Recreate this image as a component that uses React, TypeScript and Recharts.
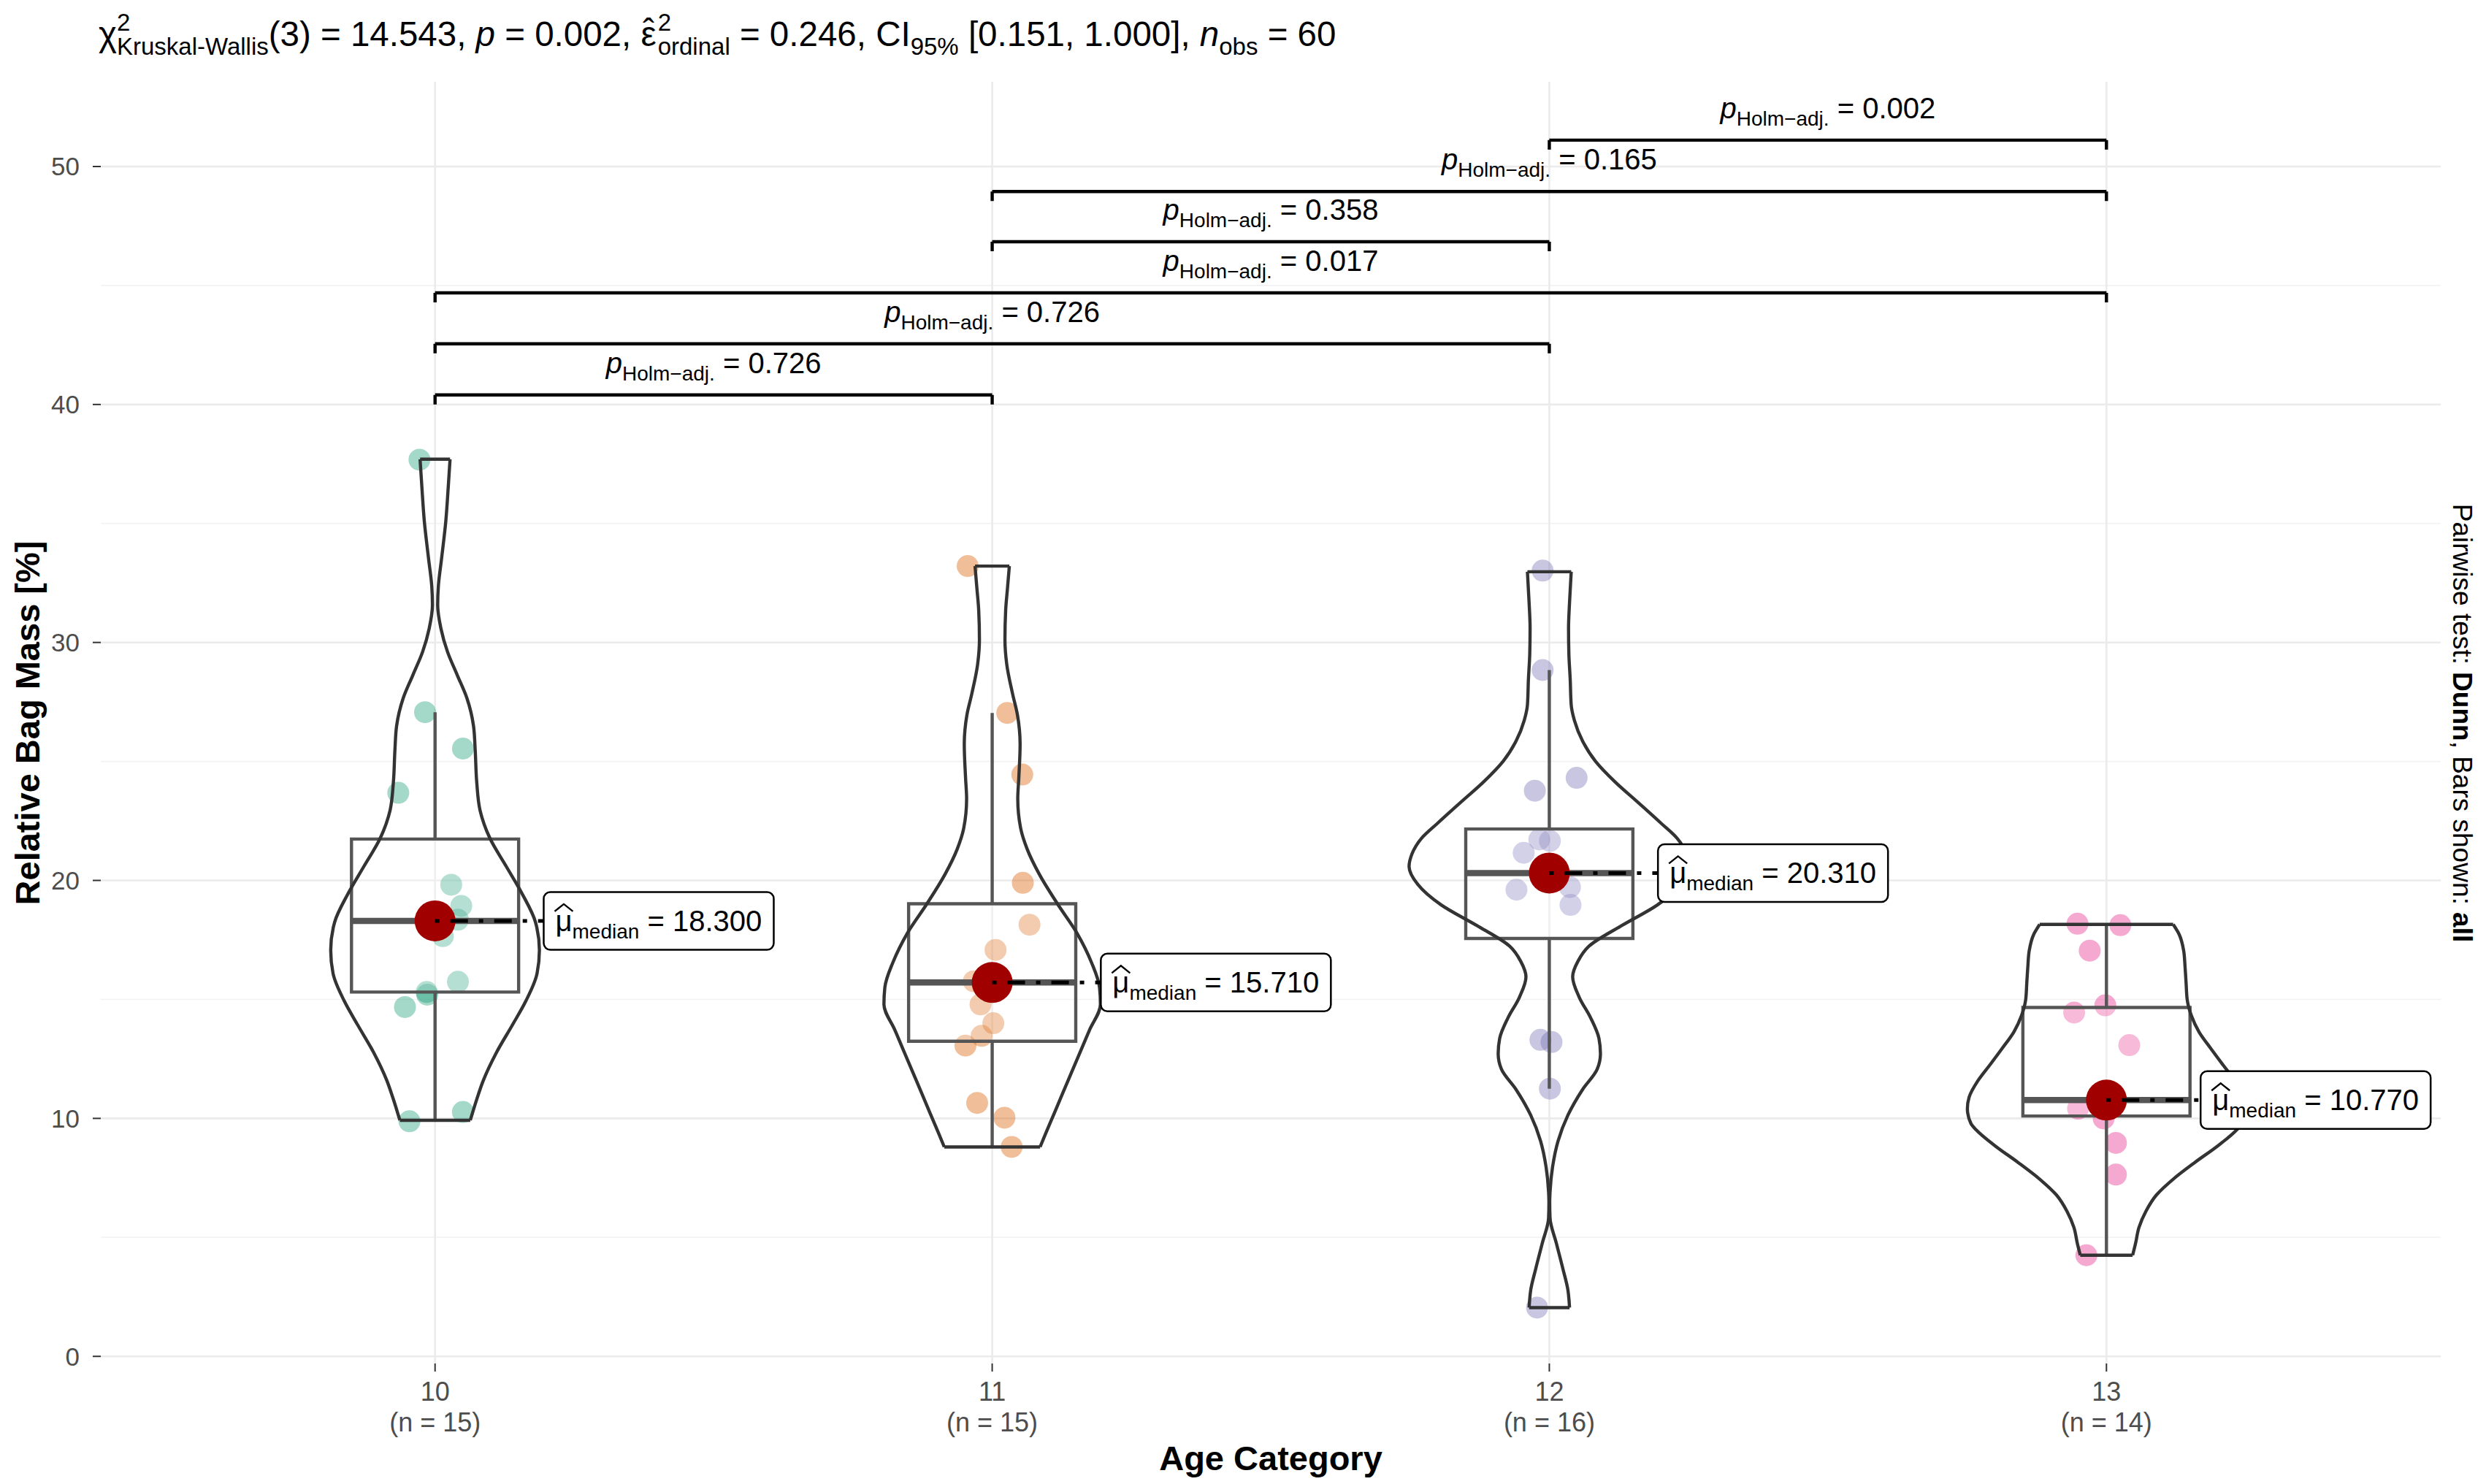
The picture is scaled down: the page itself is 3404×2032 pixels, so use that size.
import React from 'react';
import {
  ComposedChart, XAxis, YAxis, Line, Scatter,
  ReferenceLine, ReferenceArea, ReferenceDot,
} from 'recharts';

// ---------------- data ----------------
const categories = ['10', '11', '12', '13'];
const categoryIndex = [0, 1, 2, 3];
const groupCounts = [15, 15, 16, 14];
const groupColors = ['#1B9E77', '#D95F02', '#7570B3', '#E7298A'];
const yTicks = [0, 10, 20, 30, 40, 50];
const yMinorTicks = [5, 15, 25, 35, 45];

// observations (value) and horizontal jitter (category units)
const obs10 = [37.68, 27.07, 25.54, 23.68, 19.82, 18.93, 18.35, 18.0, 17.66, 15.74, 15.31, 15.2, 14.68, 10.27, 9.88];
const jit10 = [-0.028, -0.018, 0.05, -0.066, 0.029, 0.047, 0.041, 0.0, 0.014, 0.041, -0.015, -0.014, -0.054, 0.05, -0.046];
const obs11 = [33.21, 27.04, 24.45, 19.9, 18.14, 17.08, 15.76, 15.71, 14.79, 14.0, 13.47, 13.06, 10.65, 10.03, 8.8];
const jit11 = [-0.044, 0.027, 0.054, 0.055, 0.067, 0.006, -0.033, 0.0, -0.021, 0.002, -0.019, -0.048, -0.027, 0.022, 0.035];
const obs12 = [33.02, 28.84, 24.31, 23.77, 21.72, 21.66, 21.16, 20.52, 20.1, 19.72, 19.61, 18.97, 13.3, 13.21, 11.25, 2.05];
const jit12 = [-0.012, -0.012, 0.049, -0.026, -0.018, 0.001, -0.046, 0.01, -0.01, 0.037, -0.059, 0.038, -0.016, 0.004, 0.001, -0.022];
const obs13 = [18.18, 18.12, 17.05, 14.75, 14.45, 13.08, 10.9, 10.64, 10.6, 10.41, 10.0, 8.97, 7.64, 4.25];
const jit13 = [-0.052, 0.025, -0.03, -0.002, -0.058, 0.041, 0.005, -0.004, 0.01, -0.051, -0.005, 0.017, 0.017, -0.036];

// box plot statistics
const medians = [18.3, 15.71, 20.31, 10.77];
const medianLabels = ['18.300', '15.710', '20.310', '10.770'];
const q1 = [15.31, 13.24, 17.56, 10.1];
const q3 = [21.74, 19.02, 22.16, 14.66];
const whiskerLow = [9.88, 8.8, 11.25, 4.25];
const whiskerHigh = [27.07, 27.04, 28.84, 18.15];

// violin outlines: value and half-width (category units), top to bottom
const vY10 = [37.7, 36.47, 35.1, 33.53, 32.36, 31.57, 30.59, 29.61, 28.63, 27.65, 26.48, 25.5, 24.13, 22.95, 21.78, 20.6, 19.42, 18.25, 17.07, 16.09, 14.92, 13.94, 12.76, 11.59, 10.8, 9.92];
const vW10 = [0.0269, 0.0235, 0.0193, 0.0117, 0.0059, 0.0047, 0.0105, 0.0223, 0.0398, 0.0573, 0.0691, 0.072, 0.0748, 0.0807, 0.0983, 0.1275, 0.1568, 0.1802, 0.1873, 0.1831, 0.1627, 0.1392, 0.11, 0.0865, 0.0748, 0.0632];
const vY11 = [33.21, 32.24, 31.36, 30.12, 29.07, 27.83, 26.95, 25.72, 24.31, 23.43, 22.19, 21.31, 20.25, 19.02, 17.79, 16.55, 15.5, 14.79, 13.73, 12.85, 11.97, 11.09, 10.21, 9.33, 8.8];
const vW11 = [0.0308, 0.0273, 0.0242, 0.0229, 0.0262, 0.0367, 0.0454, 0.0501, 0.0478, 0.0459, 0.0511, 0.0629, 0.0848, 0.1171, 0.1521, 0.1783, 0.1927, 0.1943, 0.175, 0.159, 0.1431, 0.1271, 0.1113, 0.0954, 0.086];
const vY12 = [32.97, 31.68, 30.6, 29.53, 28.45, 27.37, 26.72, 25.86, 25.0, 24.14, 23.28, 22.41, 21.77, 21.12, 20.58, 19.83, 18.97, 18.1, 17.24, 16.59, 15.95, 15.09, 14.22, 13.36, 12.72, 12.07, 11.21, 10.13, 9.05, 7.97, 6.9, 6.47, 5.82, 4.74, 3.66, 2.8, 2.05];
const vW12 = [0.0393, 0.0363, 0.0345, 0.0351, 0.0375, 0.0393, 0.0451, 0.0596, 0.0831, 0.118, 0.1591, 0.2002, 0.2294, 0.2464, 0.2517, 0.2359, 0.194, 0.1298, 0.0714, 0.0511, 0.0419, 0.0537, 0.0743, 0.0891, 0.0918, 0.086, 0.0596, 0.0333, 0.0157, 0.0059, 0.0013, 0.0007, 0.0013, 0.0128, 0.0246, 0.0333, 0.0363];
const vY13 = [18.15, 17.74, 17.05, 16.37, 15.68, 15.0, 14.32, 13.63, 12.95, 12.26, 11.58, 10.89, 10.41, 9.79, 9.52, 8.84, 8.15, 7.47, 6.78, 6.1, 5.41, 4.73, 4.25];
const vW13 = [0.1198, 0.1304, 0.1386, 0.1411, 0.143, 0.1449, 0.1524, 0.1662, 0.1869, 0.2088, 0.2308, 0.2465, 0.2496, 0.2433, 0.2339, 0.1995, 0.1587, 0.121, 0.0897, 0.0709, 0.0583, 0.0521, 0.047];

// pairwise comparisons
const pairFrom = [0, 0, 0, 1, 1, 2];
const pairTo = [1, 2, 3, 2, 3, 3];
const pairP = ['0.726', '0.726', '0.017', '0.358', '0.165', '0.002'];
const bracketY = [40.4, 42.55, 44.69, 46.84, 48.95, 51.11];

// ---------------- layout / style ----------------
const W = 3404;
const H = 2032;
const FONT = '"Liberation Sans", Arial, Helvetica, sans-serif';
const xDomain = [-0.6, 3.6];
const yDomain = [-0.3, 53.56];
const BOX_HALF = 0.15;
const TIP = 0.4;
const labelNudge = [0.195, 0.195, 0.195, 0.169];

const observations = [obs10, obs11, obs12, obs13];
const jitters = [jit10, jit11, jit12, jit13];
const violinYs = [vY10, vY11, vY12, vY13];
const violinWs = [vW10, vW11, vW12, vW13];

const XTick = (props: any) => {
  const { x, y, payload } = props;
  const i = Math.round(payload.value);
  return (
    <g>
      <text x={x} y={y + 40} textAnchor="middle" fontSize={36} fill="#4D4D4D" fontFamily={FONT}>
        {categories[i]}
      </text>
      <text x={x} y={y + 82} textAnchor="middle" fontSize={36} fill="#4D4D4D" fontFamily={FONT}>
        {`(n = ${groupCounts[i]})`}
      </text>
    </g>
  );
};

const makeMedianLabel = (value: string) => (props: any) => {
  const { cx, cy } = props;
  const tx = cx + 16;
  const by = cy + 14;
  return (
    <g>
      <rect x={cx} y={cy - 39.5} width={315} height={79} rx={9} ry={9} fill="#fff" stroke="#000" strokeWidth={2.5} />
      <path d={`M ${tx - 1} ${by - 27} L ${tx + 11.5} ${by - 37} L ${tx + 24} ${by - 27}`}
        fill="none" stroke="#000" strokeWidth={2.4} />
      <text x={tx} y={by} fontSize={40} fontFamily={FONT} fill="#000" style={{ whiteSpace: 'pre' }}>
        <tspan>{'\u03BC'}</tspan>
        <tspan fontSize={28} dy={10}>median</tspan>
        <tspan dy={-10}>{` = ${value}`}</tspan>
      </text>
    </g>
  );
};

const makePLabel = (value: string) => (props: any) => {
  const { cx, cy } = props;
  return (
    <text x={cx} y={cy - 30} textAnchor="middle" fontSize={40} fontFamily={FONT} fill="#000" style={{ whiteSpace: 'pre' }}>
      <tspan fontStyle="italic">p</tspan>
      <tspan fontSize={28} dy={10}>{'Holm\u2212adj.'}</tspan>
      <tspan dy={-10}>{` = ${value}`}</tspan>
    </text>
  );
};

const pointShape = (r: number, color: string, opacity: number) => (props: any) => (
  <circle cx={props.cx} cy={props.cy} r={r} fill={color} fillOpacity={opacity} stroke="none" />
);

export default function App() {
  const pointSeries = observations.map((obs, g) =>
    obs.map((y, i) => ({ x: g + jitters[g][i], y }))
  );
  const medianPoints = medians.map((m, g) => ({ x: g, y: m }));
  const TF = 47.5;
  const SF = 33;

  return (
    <div style={{ position: 'absolute', left: 0, top: 0, width: W, height: H, background: '#fff' }}>
      <ComposedChart width={W} height={H} margin={{ top: 112, right: 62, bottom: 0, left: 0 }}>
        <XAxis
          type="number" dataKey="x" domain={xDomain} ticks={categoryIndex} interval={0}
          height={165} tickSize={11} tickMargin={0} axisLine={false}
          tickLine={{ stroke: '#333', strokeWidth: 2 }} tick={<XTick />} allowDataOverflow
        />
        <YAxis
          type="number" dataKey="y" domain={yDomain} ticks={yTicks} interval={0}
          width={138} tickSize={11} tickMargin={18} axisLine={false}
          tickLine={{ stroke: '#333', strokeWidth: 2 }}
          tick={{ fontSize: 35, fill: '#4D4D4D', fontFamily: FONT }} allowDataOverflow
        />

        {yMinorTicks.map((v) => (
          <ReferenceLine key={`gm${v}`} y={v} stroke="#F2F2F2" strokeWidth={1.6} zIndex={-90} />
        ))}
        {yTicks.map((v) => (
          <ReferenceLine key={`gy${v}`} y={v} stroke="#EBEBEB" strokeWidth={2.6} zIndex={-80} />
        ))}
        {categoryIndex.map((v) => (
          <ReferenceLine key={`gx${v}`} x={v} stroke="#EBEBEB" strokeWidth={2.6} zIndex={-80} />
        ))}

        {pointSeries.map((data, g) => (
          <Scatter key={`pts${g}`} data={data} isAnimationActive={false} zIndex={100}
            shape={pointShape(15, groupColors[g], 0.4)} />
        ))}

        {medians.map((m, g) => (
          <ReferenceArea key={`box${g}`} x1={g - BOX_HALF} x2={g + BOX_HALF} y1={q1[g]} y2={q3[g]}
            stroke="#555" strokeWidth={4.4} fill="#fff" fillOpacity={0.2} zIndex={200} />
        ))}
        {medians.map((m, g) => (
          <ReferenceLine key={`wh${g}`} segment={[{ x: g, y: q3[g] }, { x: g, y: whiskerHigh[g] }]}
            stroke="#555" strokeWidth={4.4} zIndex={210} />
        ))}
        {medians.map((m, g) => (
          <ReferenceLine key={`wl${g}`} segment={[{ x: g, y: q1[g] }, { x: g, y: whiskerLow[g] }]}
            stroke="#555" strokeWidth={4.4} zIndex={210} />
        ))}
        {medians.map((m, g) => (
          <ReferenceLine key={`md${g}`} segment={[{ x: g - BOX_HALF, y: m }, { x: g + BOX_HALF, y: m }]}
            stroke="#555" strokeWidth={8.5} zIndex={220} />
        ))}

        {violinYs.map((ys, g) => (
          <Line key={`vl${g}`} data={ys.map((y, i) => ({ x: g - violinWs[g][i], y }))} dataKey="y"
            type="monotoneY" stroke="#333" strokeWidth={4.4} dot={false} activeDot={false}
            isAnimationActive={false} legendType="none" zIndex={300} />
        ))}
        {violinYs.map((ys, g) => (
          <Line key={`vr${g}`} data={ys.map((y, i) => ({ x: g + violinWs[g][i], y }))} dataKey="y"
            type="monotoneY" stroke="#333" strokeWidth={4.4} dot={false} activeDot={false}
            isAnimationActive={false} legendType="none" zIndex={300} />
        ))}
        {violinYs.map((ys, g) => (
          <Line key={`vt${g}`} data={[{ x: g - violinWs[g][0], y: ys[0] }, { x: g + violinWs[g][0], y: ys[0] }]}
            dataKey="y" type="linear" stroke="#333" strokeWidth={4.4} dot={false} activeDot={false}
            isAnimationActive={false} legendType="none" zIndex={300} />
        ))}
        {violinYs.map((ys, g) => {
          const n = ys.length - 1;
          return (
            <Line key={`vb${g}`} data={[{ x: g - violinWs[g][n], y: ys[n] }, { x: g + violinWs[g][n], y: ys[n] }]}
              dataKey="y" type="linear" stroke="#333" strokeWidth={4.4} dot={false} activeDot={false}
              isAnimationActive={false} legendType="none" zIndex={300} />
          );
        })}

        <Scatter data={medianPoints} isAnimationActive={false} zIndex={400}
          shape={pointShape(28, '#A00000', 1)} />

        {medians.map((m, g) => (
          <ReferenceLine key={`seg${g}`} segment={[{ x: g, y: m }, { x: g + labelNudge[g], y: m }]}
            stroke="#000" strokeWidth={5} strokeDasharray="6 15 24 15" zIndex={500} />
        ))}
        {medians.map((m, g) => (
          <ReferenceDot key={`lab${g}`} x={g + labelNudge[g]} y={m} r={1} zIndex={600}
            shape={makeMedianLabel(medianLabels[g])} />
        ))}

        {bracketY.map((by, k) => (
          <ReferenceLine key={`bh${k}`} segment={[{ x: pairFrom[k], y: by }, { x: pairTo[k], y: by }]}
            stroke="#000" strokeWidth={4.4} zIndex={700} />
        ))}
        {bracketY.map((by, k) => (
          <ReferenceLine key={`bl${k}`} segment={[{ x: pairFrom[k], y: by }, { x: pairFrom[k], y: by - TIP }]}
            stroke="#000" strokeWidth={4.4} zIndex={700} />
        ))}
        {bracketY.map((by, k) => (
          <ReferenceLine key={`br${k}`} segment={[{ x: pairTo[k], y: by }, { x: pairTo[k], y: by - TIP }]}
            stroke="#000" strokeWidth={4.4} zIndex={700} />
        ))}
        {bracketY.map((by, k) => (
          <ReferenceDot key={`bp${k}`} x={(pairFrom[k] + pairTo[k]) / 2} y={by} r={1} zIndex={700}
            shape={makePLabel(pairP[k])} />
        ))}
      </ComposedChart>

      <svg width={W} height={H} style={{ position: 'absolute', left: 0, top: 0, pointerEvents: 'none' }}>
        <text x={135} y={63} fontSize={TF} fontFamily={FONT} fill="#000" style={{ whiteSpace: 'pre' }}>
          <tspan>{'\u03C7'}</tspan>
          <tspan fontSize={SF} dy={-21}>2</tspan>
          <tspan fontSize={SF} dx={-0.556 * SF} dy={33}>Kruskal-Wallis</tspan>
          <tspan dy={-12}>(3) = 14.543, </tspan>
          <tspan fontStyle="italic">p</tspan>
          <tspan> = 0.002, </tspan>
          <tspan>{'\u03B5'}</tspan>
          <tspan dx={-(0.44 * TF) / 2 - (0.333 * TF) / 2} dy={-4}>{'\u02C6'}</tspan>
          <tspan fontSize={SF} dx={(0.44 * TF) / 2 - (0.333 * TF) / 2 + 2} dy={-17}>2</tspan>
          <tspan fontSize={SF} dx={-0.556 * SF} dy={33}>ordinal</tspan>
          <tspan dy={-12}> = 0.246, CI</tspan>
          <tspan fontSize={SF} dy={12}>95%</tspan>
          <tspan dy={-12}> [0.151, 1.000], </tspan>
          <tspan fontStyle="italic">n</tspan>
          <tspan fontSize={SF} dy={12}>obs</tspan>
          <tspan dy={-12}> = 60</tspan>
        </text>
        <text x={54} y={990} transform="rotate(-90, 54, 990)" textAnchor="middle" fontSize={47}
          fontWeight="bold" fontFamily={FONT} fill="#000">Relative Bag Mass [%]</text>
        <text x={1740} y={2013} textAnchor="middle" fontSize={47} fontWeight="bold" fontFamily={FONT}
          fill="#000">Age Category</text>
        <text x={3359} y={990} transform="rotate(90, 3359, 990)" textAnchor="middle" fontSize={37}
          fontFamily={FONT} fill="#000" style={{ whiteSpace: 'pre' }}>
          <tspan>Pairwise test: </tspan>
          <tspan fontWeight="bold">Dunn</tspan>
          <tspan>, Bars shown: </tspan>
          <tspan fontWeight="bold">all</tspan>
        </text>
      </svg>
    </div>
  );
}
